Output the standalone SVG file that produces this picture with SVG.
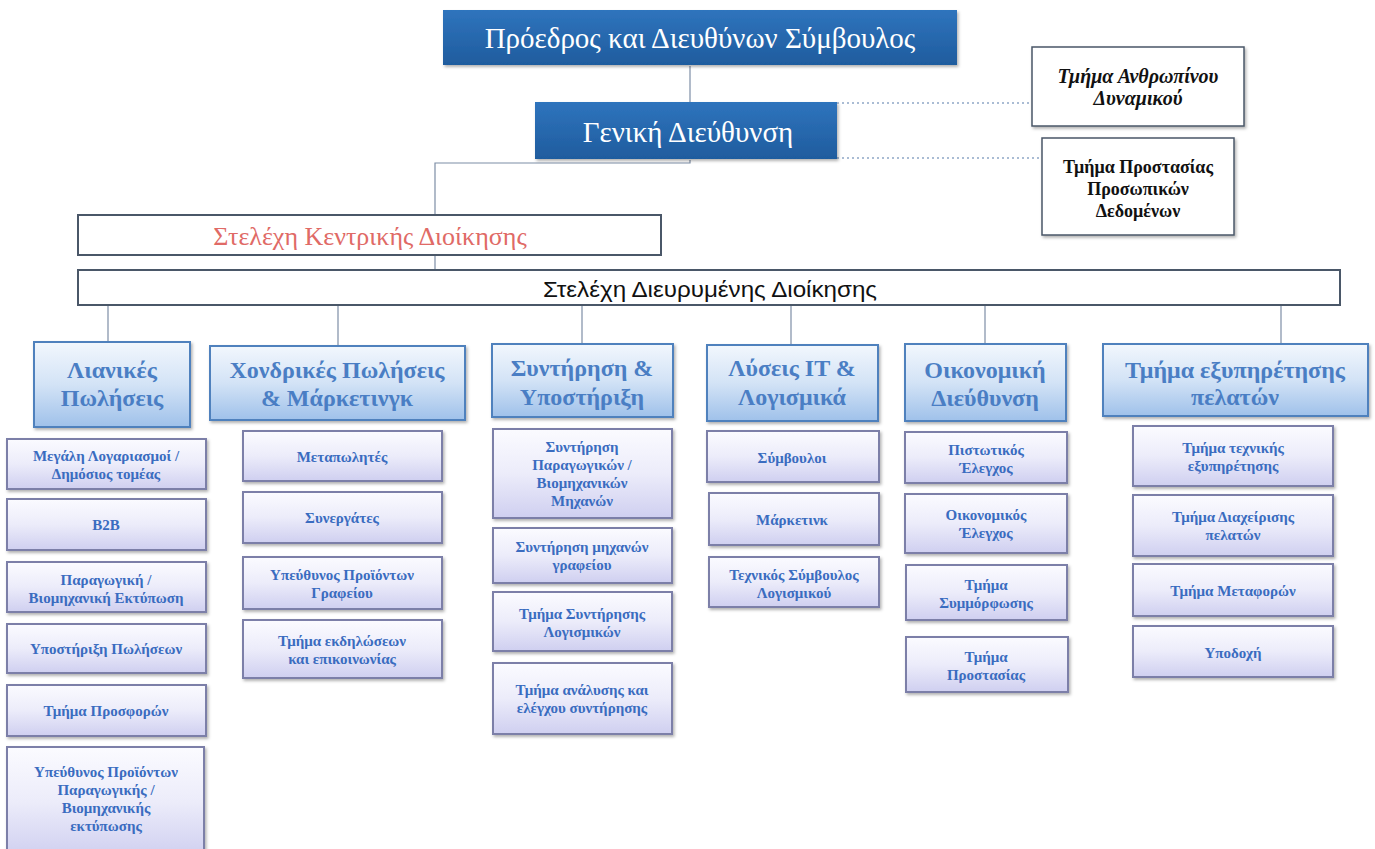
<svg xmlns="http://www.w3.org/2000/svg" width="1375" height="849" viewBox="0 0 1375 849">
<defs>
<linearGradient id="gTop" x1="0" y1="0" x2="0" y2="1">
<stop offset="0" stop-color="#2f74bd"/><stop offset="1" stop-color="#1f5c9e"/>
</linearGradient>
<linearGradient id="gDept" x1="0" y1="0" x2="0" y2="1">
<stop offset="0" stop-color="#f2f7fd"/><stop offset="0.5" stop-color="#d3e3f6"/><stop offset="1" stop-color="#9fc1ea"/>
</linearGradient>
<linearGradient id="gSub" x1="0" y1="0" x2="0" y2="1">
<stop offset="0" stop-color="#fbfbff"/><stop offset="0.5" stop-color="#ececfa"/><stop offset="1" stop-color="#cfcff0"/>
</linearGradient>
<filter id="sh" x="-10%" y="-10%" width="125%" height="130%">
<feDropShadow dx="1.5" dy="2" stdDeviation="1.5" flood-color="#000" flood-opacity="0.3"/>
</filter>
</defs>
<style>
.serif{font-family:"Liberation Serif","DejaVu Serif",serif}
.top{fill:url(#gTop);filter:url(#sh)}
.topt{font-family:"Liberation Serif","DejaVu Serif",serif;fill:#fff;text-anchor:middle}
.wbox{fill:#fff;stroke:#4a5768;stroke-width:2}
.dept{fill:url(#gDept);stroke:#4f81bd;stroke-width:2;filter:url(#sh)}
.deptt{font-family:"Liberation Serif","DejaVu Serif",serif;font-weight:bold;font-size:24px;fill:#4a7ec4;text-anchor:middle}
.sub{fill:url(#gSub);stroke:#7b7fa8;stroke-width:2;filter:url(#sh)}
.subt{font-family:"Liberation Serif","DejaVu Serif",serif;font-weight:bold;font-size:15px;fill:#3a6cc0;text-anchor:middle}
.side{fill:#fff;stroke:#4a5768;stroke-width:1.5;filter:url(#sh)}
.sidet{font-family:"Liberation Serif","DejaVu Serif",serif;font-weight:bold;fill:#111;text-anchor:middle}
.ln{stroke:#7d8ea6;stroke-width:1.2;fill:none}
.dot{stroke:#8fa6c6;stroke-width:1.5;fill:none;stroke-dasharray:2 3}
</style>

<g id="connectors">
<line class="ln" x1="690" y1="66" x2="690" y2="102"/>
<polyline class="ln" points="690,160 690,163 435,163 435,270"/>
<line class="dot" x1="837" y1="103" x2="1032" y2="103"/>
<line class="dot" x1="837" y1="158" x2="1042" y2="158"/>
<line class="ln" x1="108" y1="305" x2="108" y2="342"/>
<line class="ln" x1="338" y1="305" x2="338" y2="346"/>
<line class="ln" x1="582" y1="305" x2="582" y2="344"/>
<line class="ln" x1="791" y1="305" x2="791" y2="345"/>
<line class="ln" x1="985" y1="305" x2="985" y2="344"/>
<line class="ln" x1="1281" y1="305" x2="1281" y2="344"/>
</g>

<g id="ceo">
<rect class="top" x="443" y="10" width="514" height="55"/>
<text class="topt" x="700" y="48" font-size="29">Πρόεδρος και Διευθύνων Σύμβουλος</text>
</g>
<g id="gm">
<rect class="top" x="535" y="102" width="302" height="57"/>
<text class="topt" x="688" y="142" font-size="29">Γενική Διεύθυνση</text>
</g>
<g id="hr">
<rect class="side" x="1032" y="47" width="212" height="79"/>
<text class="sidet" font-style="italic" font-size="20" x="1138" y="83">Τμήμα Ανθρωπίνου</text>
<text class="sidet" font-style="italic" font-size="20" x="1138" y="105">Δυναμικού</text>
</g>
<g id="dpo">
<rect class="side" x="1042" y="138" width="192" height="97"/>
<text class="sidet" font-size="18" x="1138" y="173">Τμήμα Προστασίας</text>
<text class="sidet" font-size="18" x="1138" y="195">Προσωπικών</text>
<text class="sidet" font-size="18" x="1138" y="217">Δεδομένων</text>
</g>
<g id="central">
<rect class="wbox" x="78" y="215" width="583" height="40"/>
<text class="serif" x="370" y="245" font-size="26" fill="#e06a66" text-anchor="middle">Στελέχη Κεντρικής Διοίκησης</text>
</g>
<g id="extended">
<rect class="wbox" x="78" y="270" width="1262" height="35"/>
<text x="710" y="297" font-family="Liberation Sans, sans-serif" font-size="22" fill="#111" text-anchor="middle" textLength="334" lengthAdjust="spacingAndGlyphs">Στελέχη Διευρυμένης Διοίκησης</text>
</g>

<g id="retail">
<rect class="dept" x="34" y="342" width="156" height="85"/>
<text class="deptt" x="112" y="378">Λιανικές</text>
<text class="deptt" x="112" y="406">Πωλήσεις</text>
</g>
<g id="wholesale">
<rect class="dept" x="210" y="346" width="255" height="74"/>
<text class="deptt" x="337" y="378">Χονδρικές Πωλήσεις</text>
<text class="deptt" x="337" y="406">&amp; Μάρκετινγκ</text>
</g>
<g id="maintenance">
<rect class="dept" x="492" y="344" width="181" height="73"/>
<text class="deptt" x="582" y="376">Συντήρηση &amp;</text>
<text class="deptt" x="582" y="405">Υποστήριξη</text>
</g>
<g id="it">
<rect class="dept" x="707" y="345" width="171" height="76"/>
<text class="deptt" x="792" y="376">Λύσεις IT &amp;</text>
<text class="deptt" x="792" y="405">Λογισμικά</text>
</g>
<g id="finance">
<rect class="dept" x="905" y="344" width="161" height="77"/>
<text class="deptt" x="985" y="378">Οικονομική</text>
<text class="deptt" x="985" y="406">Διεύθυνση</text>
</g>
<g id="service">
<rect class="dept" x="1103" y="344" width="265" height="72"/>
<text class="deptt" x="1235" y="378" font-size="25">Τμήμα εξυπηρέτησης</text>
<text class="deptt" x="1235" y="405" font-size="25">πελατών</text>
</g>

<g id="r1"><rect class="sub" x="7" y="439" width="199" height="50"/><text class="subt" x="106" y="461">Μεγάλη Λογαριασμοί /</text><text class="subt" x="106" y="479">Δημόσιος τομέας</text></g>
<g id="r2"><rect class="sub" x="7" y="499" width="199" height="51"/><text class="subt" x="106" y="530">B2B</text></g>
<g id="r3"><rect class="sub" x="7" y="562" width="199" height="50"/><text class="subt" x="106" y="585">Παραγωγική /</text><text class="subt" x="106" y="603">Βιομηχανική Εκτύπωση</text></g>
<g id="r4"><rect class="sub" x="7" y="624" width="199" height="49"/><text class="subt" x="106" y="654">Υποστήριξη Πωλήσεων</text></g>
<g id="r5"><rect class="sub" x="7" y="685" width="199" height="51"/><text class="subt" x="106" y="716">Τμήμα Προσφορών</text></g>
<g id="r6"><rect class="sub" x="7" y="747" width="197" height="110"/><text class="subt" x="106" y="777">Υπεύθυνος Προϊόντων</text><text class="subt" x="106" y="795">Παραγωγικής /</text><text class="subt" x="106" y="813">Βιομηχανικής</text><text class="subt" x="106" y="831">εκτύπωσης</text></g>

<g id="w1"><rect class="sub" x="243" y="431" width="199" height="50"/><text class="subt" x="342" y="462">Μεταπωλητές</text></g>
<g id="w2"><rect class="sub" x="243" y="492" width="199" height="51"/><text class="subt" x="342" y="523">Συνεργάτες</text></g>
<g id="w3"><rect class="sub" x="243" y="557" width="199" height="52"/><text class="subt" x="342" y="580">Υπεύθυνος Προϊόντων</text><text class="subt" x="342" y="598">Γραφείου</text></g>
<g id="w4"><rect class="sub" x="243" y="620" width="199" height="58"/><text class="subt" x="342" y="646">Τμήμα εκδηλώσεων</text><text class="subt" x="342" y="664">και επικοινωνίας</text></g>

<g id="m1"><rect class="sub" x="493" y="429" width="179" height="89"/><text class="subt" x="582" y="452">Συντήρηση</text><text class="subt" x="582" y="470">Παραγωγικών /</text><text class="subt" x="582" y="488">Βιομηχανικών</text><text class="subt" x="582" y="506">Μηχανών</text></g>
<g id="m2"><rect class="sub" x="493" y="528" width="179" height="55"/><text class="subt" x="582" y="552">Συντήρηση μηχανών</text><text class="subt" x="582" y="570">γραφείου</text></g>
<g id="m3"><rect class="sub" x="493" y="592" width="179" height="59"/><text class="subt" x="582" y="619">Τμήμα Συντήρησης</text><text class="subt" x="582" y="637">Λογισμικών</text></g>
<g id="m4"><rect class="sub" x="493" y="663" width="179" height="71"/><text class="subt" x="582" y="695">Τμήμα ανάλυσης και</text><text class="subt" x="582" y="713">ελέγχου συντήρησης</text></g>

<g id="i1"><rect class="sub" x="707" y="431" width="172" height="51"/><text class="subt" x="792" y="463">Σύμβουλοι</text></g>
<g id="i2"><rect class="sub" x="709" y="493" width="170" height="52"/><text class="subt" x="792" y="525">Μάρκετινκ</text></g>
<g id="i3"><rect class="sub" x="709" y="557" width="170" height="50"/><text class="subt" x="794" y="580">Τεχνικός Σύμβουλος</text><text class="subt" x="794" y="598">Λογισμικού</text></g>

<g id="f1"><rect class="sub" x="905" y="432" width="162" height="51"/><text class="subt" x="986" y="455">Πιστωτικός</text><text class="subt" x="986" y="473">Έλεγχος</text></g>
<g id="f2"><rect class="sub" x="905" y="494" width="162" height="59"/><text class="subt" x="986" y="520">Οικονομικός</text><text class="subt" x="986" y="538">Έλεγχος</text></g>
<g id="f3"><rect class="sub" x="906" y="565" width="161" height="55"/><text class="subt" x="986" y="590">Τμήμα</text><text class="subt" x="986" y="608">Συμμόρφωσης</text></g>
<g id="f4"><rect class="sub" x="906" y="637" width="162" height="55"/><text class="subt" x="986" y="662">Τμήμα</text><text class="subt" x="986" y="680">Προστασίας</text></g>

<g id="s1"><rect class="sub" x="1133" y="426" width="200" height="60"/><text class="subt" x="1233" y="453">Τμήμα τεχνικής</text><text class="subt" x="1233" y="471">εξυπηρέτησης</text></g>
<g id="s2"><rect class="sub" x="1133" y="495" width="200" height="61"/><text class="subt" x="1233" y="522">Τμήμα Διαχείρισης</text><text class="subt" x="1233" y="540">πελατών</text></g>
<g id="s3"><rect class="sub" x="1133" y="564" width="200" height="52"/><text class="subt" x="1233" y="596">Τμήμα Μεταφορών</text></g>
<g id="s4"><rect class="sub" x="1133" y="626" width="200" height="51"/><text class="subt" x="1233" y="658">Υποδοχή</text></g>
</svg>
